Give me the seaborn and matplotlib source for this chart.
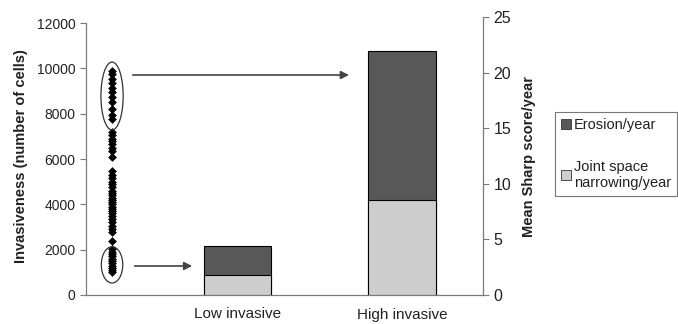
import matplotlib
matplotlib.use("Agg")
import matplotlib.pyplot as plt
from matplotlib.patches import Ellipse, Patch
import seaborn as sns
import pandas as pd

# invasiveness of individual samples (number of cells)
invasiveness = [
    9900, 9750, 9550, 9350, 9150, 8950, 8750, 8500, 8200, 7950, 7750,
    7200, 7050, 6900, 6800, 6650, 6500, 6350, 6100,
    5450, 5300, 5150, 5000, 4900, 4750, 4600, 4500, 4400, 4300, 4200,
    4100, 4000, 3900, 3800, 3700, 3600, 3500, 3350, 3200, 3050, 2900, 2800,
    2400,
    2050, 1900, 1800, 1700, 1600, 1500, 1400, 1300, 1200, 1100, 1000,
]

groups = ["Low invasive", "High invasive"]
jsn_per_year = [1.8, 8.5]
erosion_per_year = [2.6, 13.4]

sns.set_style("white")
plt.rcParams["font.family"] = ["Liberation Sans", "DejaVu Sans"]

fig = plt.figure(figsize=(6.78, 3.24), dpi=100)
ax = fig.add_axes([86 / 678, 29 / 324, 397 / 678, 278 / 324])
ax2 = ax.twinx()

grey = "#7a7a7a"
txt = "#222222"
bar_x = [1, 2]

# dot column of invasiveness
dots = pd.DataFrame({"x": [0.24] * len(invasiveness), "y": invasiveness})
sns.scatterplot(data=dots, x="x", y="y", marker="D", s=20, color="black",
                edgecolor="black", linewidth=0, ax=ax, zorder=3)

# stacked bars on the right axis
totals = [j + e for j, e in zip(jsn_per_year, erosion_per_year)]
bars = pd.DataFrame({"x": bar_x, "total": totals, "jsn": jsn_per_year})
sns.barplot(data=bars, x="x", y="total", native_scale=True, width=0.41,
            color="#585858", saturation=1, edgecolor="black", linewidth=0.8, ax=ax2)
sns.barplot(data=bars, x="x", y="jsn", native_scale=True, width=0.41,
            color="#cdcdcd", saturation=1, edgecolor="black", linewidth=0.8, ax=ax2)

ax.set_xlim(0.082, 2.49)
ax2.set_xlim(0.082, 2.49)
ax.set_ylim(0, 12265)
ax2.set_ylim(0, 25)

# ellipses around the clusters + arrows to the bars
ax.add_patch(Ellipse((0.24, 8780), 0.135, 3000, fill=False, edgecolor="#333333", lw=0.9, zorder=4))
ax.add_patch(Ellipse((0.24, 1330), 0.13, 1600, fill=False, edgecolor="#333333", lw=0.9, zorder=4))
ax.annotate("", xy=(1.694, 9706), xytext=(0.349, 9706),
            arrowprops=dict(arrowstyle="-|>", color="#444444", lw=1.2, mutation_scale=12))
ax.annotate("", xy=(0.743, 1280), xytext=(0.36, 1280),
            arrowprops=dict(arrowstyle="-|>", color="#444444", lw=1.2, mutation_scale=12))

# left axis
ax.set_yticks(range(0, 12001, 2000))
ax.spines["left"].set_bounds(0, 12000)
ax.set_ylabel("Invasiveness (number of cells)", fontsize=10.5, fontweight="bold", color=txt, labelpad=6)
ax.set_xticks([0.5, 1.5])
ax.set_xticklabels([])
ax.set_xticks(bar_x, minor=True)
ax.set_xticklabels(groups, minor=True, fontsize=11, color=txt)
ax.tick_params(axis="x", which="major", length=3, direction="out", color=grey, bottom=True)
ax.tick_params(axis="x", which="minor", length=0, pad=9)
ax.tick_params(axis="y", length=4, direction="out", color=grey, labelsize=10, labelcolor=txt, left=True)
ax.set_xlabel("")

# right axis
ax2.set_yticks(range(0, 26, 5))
ax2.set_ylabel("Mean Sharp score/year", fontsize=10.5, fontweight="bold", color=txt, labelpad=8)
ax2.tick_params(axis="y", length=4, direction="out", color=grey, labelsize=11.5, labelcolor=txt, right=True)
ax2.set_xlabel("")
ax2.set_xticks([])

for a in (ax, ax2):
    a.spines["top"].set_visible(False)
    for side in ("left", "right", "bottom"):
        a.spines[side].set_color(grey)
        a.spines[side].set_linewidth(0.9)
ax.spines["right"].set_visible(False)
ax2.spines["left"].set_visible(False)
ax2.spines["bottom"].set_visible(False)

handles = [Patch(facecolor="#585858", edgecolor="#333333", lw=0.6),
           Patch(facecolor="#cdcdcd", edgecolor="#333333", lw=0.6)]
leg = ax2.legend(handles, ["Erosion/year", "Joint space\nnarrowing/year"],
                 loc="upper left", bbox_to_anchor=(555 / 678, 1 - 112 / 324),
                 bbox_transform=fig.transFigure, fontsize=10.5, frameon=True,
                 fancybox=False, borderaxespad=0, handlelength=0.7, handleheight=0.7,
                 handletextpad=0.2, labelspacing=1.9, borderpad=0.4)
leg.get_frame().set_edgecolor("#555555")
leg.get_frame().set_linewidth(0.8)
for t in leg.get_texts():
    t.set_color(txt)

fig.savefig("out.png", dpi=100)
